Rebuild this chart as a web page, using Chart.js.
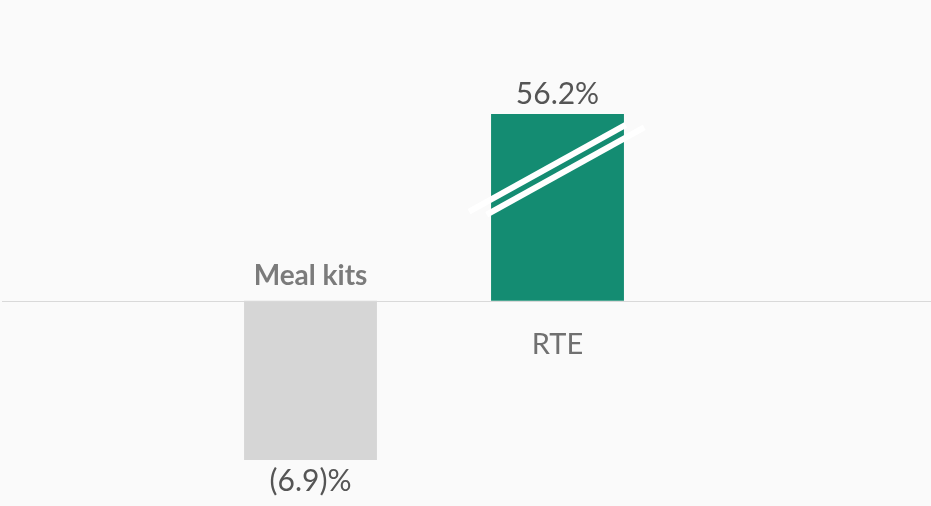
<!DOCTYPE html>
<html>
<head>
<meta charset="utf-8">
<script src="https://cdn.jsdelivr.net/npm/chart.js@4"></script>
<style>
  html, body { margin: 0; padding: 0; background: #fafafa; }
  #wrap { width: 931px; height: 506px; }
</style>
</head>
<body>
<div id="wrap"><canvas id="chart" width="931" height="506"></canvas></div>
<script>
// Data
const categories = ['Meal kits', 'RTE'];
const growth = [-6.9, 56.2];
const valueLabels = ['(6.9)%', '56.2%'];
const barColors = ['#d6d6d6', '#148c72'];

// visible part of the value axis (RTE bar is cut by an axis break)
const axisMin = -6.9;
const axisMax = 8.1;

const FONT = 'Lato, "Source Sans Pro", sans-serif';

// baseline, labels and axis-break marks
const annotations = {
  id: 'annotations',
  afterDatasetsDraw(chart) {
    const ctx = chart.ctx;
    const y = chart.scales.y;
    const area = chart.chartArea;
    const zero = Math.round(y.getPixelForValue(0)) + 0.5;
    const bars = chart.getDatasetMeta(0).data;

    ctx.save();
    // zero line across the whole width
    ctx.strokeStyle = '#d9d9d9';
    ctx.lineWidth = 1.2;
    ctx.beginPath();
    ctx.moveTo(2, zero);
    ctx.lineTo(chart.width, zero);
    ctx.stroke();

    ctx.textAlign = 'center';
    ctx.textBaseline = 'alphabetic';
    bars.forEach((bar, i) => {
      const v = growth[i];
      const cut = v > axisMax;
      // visible end of the bar (clipped at the chart area)
      const end = Math.min(Math.max(bar.y, area.top), area.bottom);
      // axis break on a truncated bar
      if (cut) {
        const cx = bar.x;
        const cy = end + 55;
        const dx = Math.cos(29 * Math.PI / 180);
        const dy = -Math.sin(29 * Math.PI / 180);
        ctx.strokeStyle = '#ffffff';
        ctx.lineWidth = 6;
        ctx.lineCap = 'butt';
        [[-5.6, -98, 81], [5.6, -84, 96]].forEach(([off, a, b]) => {
          const ox = cx + off * 0.485;
          const oy = cy + off * 0.875;
          ctx.beginPath();
          ctx.moveTo(ox + a * dx, oy + a * dy);
          ctx.lineTo(ox + b * dx, oy + b * dy);
          ctx.stroke();
        });
      }
      // value label at the end of the bar
      ctx.fillStyle = '#555555';
      ctx.font = '30px ' + FONT;
      if (v >= 0) {
        ctx.fillText(valueLabels[i], bar.x, end - 10);
      } else {
        ctx.fillText(valueLabels[i], bar.x, end + 31);
      }
      // category label on the other side of the zero line
      if (v >= 0) {
        ctx.fillStyle = '#707070';
        ctx.font = '29px ' + FONT;
        ctx.fillText(categories[i], bar.x, zero + 52);
      } else {
        ctx.fillStyle = '#7b7b7b';
        ctx.font = 'bold 28px ' + FONT;
        ctx.fillText(categories[i], bar.x, zero - 17);
      }
    });
    ctx.restore();
  }
};

new Chart(document.getElementById('chart'), {
  type: 'bar',
  data: {
    labels: categories,
    datasets: [{
      data: growth,
      backgroundColor: barColors,
      borderWidth: 0,
      barPercentage: 0.538,
      categoryPercentage: 1,
      clip: 0
    }]
  },
  options: {
    responsive: false,
    animation: false,
    layout: { padding: { top: 114, bottom: 46, left: 187, right: 250 } },
    plugins: { legend: { display: false }, tooltip: { enabled: false } },
    scales: {
      x: { display: false },
      y: { display: false, min: axisMin, max: axisMax }
    }
  },
  plugins: [annotations]
});
</script>
</body>
</html>
